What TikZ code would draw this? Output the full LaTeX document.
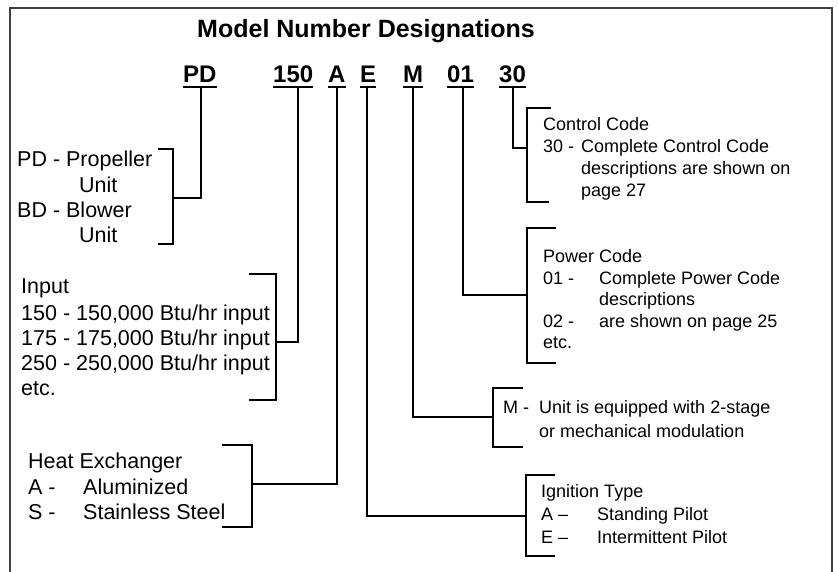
\documentclass[tikz,border=0pt]{standalone}
\usepackage{fontspec}
\setmainfont{Liberation Sans}
\begin{document}
\begin{tikzpicture}[x=1pt,y=-1pt,
  lbl/.style={anchor=base west, inner sep=0pt, font=\fontsize{21.5}{25}\selectfont},
  rlbl/.style={anchor=base west, inner sep=0pt, font=\fontsize{18}{22}\selectfont},
  codetxt/.style={anchor=base west, inner sep=0pt, font=\fontsize{24}{28}\selectfont\bfseries},
  conn/.style={line width=1.8pt, line cap=rect},
  uline/.style={line width=1.3pt},
  framestyle/.style={line width=1.5pt, draw=black!75}]
\useasboundingbox (0,0) rectangle (838,572);
\draw[framestyle] (10,572) -- (10,8) -- (832,8) -- (832,572);

% title
\node[anchor=base, inner sep=0pt, font=\fontsize{25}{30}\selectfont\bfseries] (title) at (366,38) {Model Number Designations};

% code letters
\node[codetxt] (cPD) at (183,83) {PD};
\node[codetxt] (c150) at (273,83) {150};
\node[codetxt] (cA) at (328,83) {A};
\node[codetxt] (cE) at (360,83) {E};
\node[codetxt] (cM) at (403,83) {M};
\node[codetxt] (c01) at (447,83) {01};
\node[codetxt] (c30) at (499,83) {30};
\foreach \n in {cPD,c150,cA,cE,cM,c01,c30}
  \draw[uline] ([yshift=-4pt]\n.base west) -- ([yshift=-4pt]\n.base east);

% connector tops
\coordinate (tPD) at (201,87);
\coordinate (t150) at (298,87);
\coordinate (tA) at (337,87);
\coordinate (tE) at (367,87);
\coordinate (tM) at (413,87);
\coordinate (t01) at (463,87);
\coordinate (t30) at (513,87);

% bracket junctions
\coordinate (jPD) at (173,198);
\coordinate (j150) at (276,342);
\coordinate (jA) at (252,484);
\coordinate (jE) at (526,516);
\coordinate (jM) at (493,417);
\coordinate (j01) at (527,295);
\coordinate (j30) at (527,148);

\draw[conn] (tPD) |- (jPD);
\draw[conn] (t150) |- (j150);
\draw[conn] (tA) |- (jA);
\draw[conn] (tE) |- (jE);
\draw[conn] (tM) |- (jM);
\draw[conn] (t01) |- (j01);
\draw[conn] (t30) |- (j30);

% left brackets
\draw[conn] (159,149) -- (173,149) -- (173,244) -- (159,244);
\draw[conn] (250,274) -- (276,274) -- (276,400) -- (250,400);
\draw[conn] (223,445) -- (252,445) -- (252,527) -- (223,527);
% right brackets
\draw[conn] (550,108) -- (527,108) -- (527,202) -- (548,202);
\draw[conn] (555,228) -- (527,228) -- (527,363) -- (555,363);
\draw[conn] (522,388) -- (493,388) -- (493,447) -- (522,447);
\draw[conn] (554,475) -- (526,475) -- (526,556) -- (554,556);

% PD block
\node[lbl] (pd1) at (17,167) {PD - Propeller};
\node[lbl] (pd2) at (79,193) {Unit};
\node[lbl] (pd3) at (17,218) {BD - Blower};
\node[lbl] (pd4) at (79,243) {Unit};

% Input block
\node[lbl] (in1) at (21,293) {Input};
\node[lbl] (in2) at (21,320) {150 - 150,000 Btu/hr input};
\node[lbl] (in3) at (21,345) {175 - 175,000 Btu/hr input};
\node[lbl] (in4) at (21,370) {250 - 250,000 Btu/hr input};
\node[lbl] (in5) at (21,395) {etc.};

% Heat exchanger block
\node[lbl] (hx1) at (28,468) {Heat Exchanger};
\node[lbl] (hx2) at (28,494) {A -};
\node[lbl] (hx3) at (83,494) {Aluminized};
\node[lbl] (hx4) at (28,519) {S -};
\node[lbl] (hx5) at (83,519) {Stainless Steel};

% Control code block
\node[rlbl] (cc1) at (543,131) {Control Code};
\node[rlbl] (cc2) at (543,153) {30 -};
\node[rlbl] (cc3) at (581,153) {Complete Control Code};
\node[rlbl] (cc4) at (581,175) {descriptions are shown on};
\node[rlbl] (cc5) at (581,197) {page 27};

% Power code block
\node[rlbl] (pc1) at (543,262) {Power Code};
\node[rlbl] (pc2) at (543,284) {01 -};
\node[rlbl] (pc3) at (599,284) {Complete Power Code};
\node[rlbl] (pc4) at (599,305) {descriptions};
\node[rlbl] (pc5) at (543,327) {02 -};
\node[rlbl] (pc6) at (599,327) {are shown on page 25};
\node[rlbl] (pc7) at (543,348) {etc.};

% M block
\node[rlbl] (m1) at (503,413) {M -};
\node[rlbl] (m2) at (539,413) {Unit is equipped with 2-stage};
\node[rlbl] (m3) at (539,437) {or mechanical modulation};

% Ignition block
\node[rlbl] (ig1) at (541,497) {Ignition Type};
\node[rlbl] (ig2) at (541,520) {A –};
\node[rlbl] (ig3) at (597,520) {Standing Pilot};
\node[rlbl] (ig4) at (541,543) {E –};
\node[rlbl] (ig5) at (597,543) {Intermittent Pilot};
\end{tikzpicture}
\end{document}
